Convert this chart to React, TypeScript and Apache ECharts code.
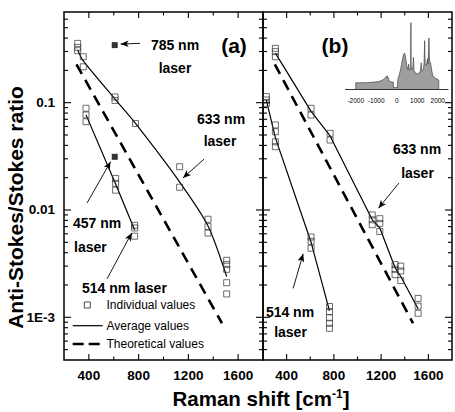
import React, { useEffect, useRef } from "react";
import * as echarts from "echarts";

const FONT = "'Liberation Sans', Arial, Helvetica, sans-serif";

// ---- Panel (a): ratios measured with different excitation lasers ----
const a633Points = [
  [310, 0.357], [310, 0.328], [310, 0.305],
  [355, 0.268], [355, 0.216],
  [610, 0.113], [610, 0.105],
  [775, 0.064],
  [1130, 0.0253], [1130, 0.0163],
  [1358, 0.0082], [1358, 0.007], [1358, 0.0061],
  [1508, 0.0034], [1508, 0.0031], [1508, 0.0028], [1508, 0.0021], [1508, 0.00165],
];
const a633Mean = [
  [310, 0.31], [355, 0.245], [610, 0.108], [775, 0.064],
  [1130, 0.0182], [1358, 0.0071], [1508, 0.0024],
];
const a514Points = [
  [377, 0.0887], [377, 0.0768], [377, 0.0665],
  [615, 0.0197], [615, 0.0177], [615, 0.0153],
  [768, 0.0072], [768, 0.0068], [768, 0.0057],
];
const a514Mean = [[377, 0.077], [615, 0.0175], [768, 0.0065]];
const a785Point = [[608, 0.344]];
const a457Point = [[608, 0.0313]];

// ---- Panel (b) ----
const b633Points = [
  [305, 0.321], [305, 0.299], [305, 0.268],
  [607, 0.0886], [607, 0.0767],
  [768, 0.0518], [768, 0.0449],
  [1125, 0.009], [1125, 0.0081], [1125, 0.0073],
  [1189, 0.0083], [1189, 0.0075], [1189, 0.0063],
  [1318, 0.0031], [1318, 0.0028], [1318, 0.0025],
  [1366, 0.003], [1366, 0.0027], [1366, 0.0022],
  [1513, 0.0015], [1513, 0.00127], [1513, 0.00109],
];
const b633Mean = [
  [305, 0.29], [607, 0.083], [768, 0.049], [1125, 0.0081],
  [1189, 0.0068], [1318, 0.0029], [1366, 0.0024], [1513, 0.0012],
];
const b514Points = [
  [228, 0.114], [228, 0.106], [228, 0.0986],
  [305, 0.062], [305, 0.0536], [305, 0.0432], [305, 0.0389],
  [607, 0.0056], [607, 0.0051], [607, 0.0044],
  [763, 0.00126], [763, 0.00113], [763, 0.00099], [763, 0.00088], [763, 0.00079],
];
const b514Mean = [[228, 0.106], [305, 0.047], [607, 0.005], [763, 0.00115]];

// Boltzmann prediction, shared by both panels
const theoretical = [[300, 0.228], [1470, 0.00088]];

// Annotation arrows, [from, to] in data coordinates
const aArrows = [
  [[811, 0.357], [655, 0.352]],
  [[1326, 0.0298], [1157, 0.0199]],
  [[385, 0.0116], [575, 0.0282]],
  [[546, 0.00228], [744, 0.0061]],
];
const bArrows = [
  [[1350, 0.0178], [1178, 0.0104]],
  [[455, 0.00186], [540, 0.0039]],
];

// ---- Axes ----
const xMin = 200;
const xMax = 1800;
const xStep = 200;
const xMajorStep = 400;
const xTickValues = [400, 600, 800, 1000, 1200, 1400, 1600];
const yMin = 0.0004;
const yMax = 0.7;
const yDecades = [1e-4, 1e-3, 1e-2, 1e-1];
const yMantissas = [1, 2, 3, 4, 5, 6, 7, 8, 9];
const yLabelText: Record<string, string> = { "-1": "0.1", "-2": "0.01", "-3": "1E-3" };

// ---- Inset: Raman spectrum (anti-Stokes and Stokes sides) ----
const insetSpectrum = [
  [-2000, 0], [-2000, 9], [-1500, 9], [-1100, 10], [-850, 11], [-700, 13],
  [-600, 15], [-520, 18], [-460, 19], [-410, 16], [-360, 11], [-250, 10],
  [-170, 10], [-160, 2], [40, 2], [50, 14], [120, 20], [200, 30], [270, 42],
  [330, 50], [390, 52], [440, 44], [490, 33], [540, 28], [580, 36], [610, 27],
  [660, 29], [680, 31], [690, 96], [700, 32], [740, 28], [790, 32], [815, 46],
  [840, 27], [900, 24], [1000, 22], [1100, 23], [1160, 27], [1195, 38],
  [1230, 26], [1300, 28], [1335, 38], [1360, 70], [1385, 36], [1450, 34],
  [1500, 44], [1530, 36], [1570, 74], [1600, 40], [1650, 38], [1700, 28],
  [1750, 20], [1850, 16], [2000, 14], [2050, 13], [2050, 0],
];
const insetMin = -2500;
const insetMax = 2500;
const insetLabelStep = 1000;

const xTickData = xTickValues.map((v) => [v, 0.01, 0, v % xMajorStep === 0 ? 1 : 0]);
const yTickData: number[][] = [];
yDecades.forEach((d) =>
  yMantissas.forEach((m) => {
    const v = m * d;
    if (v > yMin * 1.0001 && v < yMax * 0.9999) yTickData.push([1000, v, 1, m === 1 ? 1 : 0]);
  })
);
const tickData = [...xTickData, ...yTickData];

const tickStyle = { stroke: "#000", lineWidth: 1.1 };

function renderTicks(params: any, api: any) {
  const cs = params.coordSys;
  const isY = api.value(2) === 1;
  const major = api.value(3) === 1;
  const pt = api.coord([api.value(0), api.value(1)]);
  const children: any[] = [];
  if (!isY) {
    const len = major ? 6 : 3.5;
    const bottom = cs.y + cs.height;
    children.push({ type: "line", shape: { x1: pt[0], y1: bottom, x2: pt[0], y2: bottom - len }, style: tickStyle });
    children.push({ type: "line", shape: { x1: pt[0], y1: cs.y, x2: pt[0], y2: cs.y + len }, style: tickStyle });
  } else {
    const len = major ? 7 : 4;
    const right = cs.x + cs.width;
    children.push({ type: "line", shape: { x1: cs.x, y1: pt[1], x2: cs.x + len, y2: pt[1] }, style: tickStyle });
    children.push({ type: "line", shape: { x1: right, y1: pt[1], x2: right - len, y2: pt[1] }, style: tickStyle });
  }
  return { type: "group", children };
}

const hollowSquare = {
  type: "scatter",
  symbol: "rect",
  symbolSize: 6,
  itemStyle: { color: "rgba(255,255,255,0)", borderColor: "#333", borderWidth: 0.9 },
  z: 4,
};
const meanLine = {
  type: "line",
  showSymbol: false,
  symbol: "none",
  lineStyle: { color: "#000", width: 1.2 },
  z: 3,
};
const dashedLine = {
  type: "line",
  showSymbol: false,
  symbol: "none",
  lineStyle: { color: "#000", width: 2.6, type: [11, 7], cap: "butt" },
  z: 3,
};

function arrowMarks(list: number[][][]) {
  return {
    silent: true,
    symbol: ["none", "arrow"],
    symbolSize: [5, 8],
    lineStyle: { color: "#000", width: 0.9, type: "solid" },
    label: { show: false },
    emphasis: { disabled: true },
    data: list.map(([from, to]) => [{ coord: from }, { coord: to }]),
  };
}

function label(x: number, y: number, text: string, size = 14, align = "center", weight = "bold") {
  return {
    type: "text",
    x,
    y,
    z: 10,
    style: {
      text,
      fill: "#000",
      font: `${weight} ${size}px ${FONT}`,
      align,
      verticalAlign: "middle",
    },
  };
}

const mainX = (gridIndex: number) => ({
  gridIndex,
  type: "value",
  min: xMin,
  max: xMax,
  interval: xStep,
  axisLine: { show: false },
  axisTick: { show: false },
  splitLine: { show: false },
  axisLabel: {
    formatter: (v: number) => (v % xMajorStep === 0 ? String(v) : ""),
    color: "#000",
    fontFamily: FONT,
    fontWeight: "bold",
    fontSize: 13.5,
    margin: 8,
  },
});

const mainY = (gridIndex: number, showLabels: boolean) => ({
  gridIndex,
  type: "log",
  logBase: 10,
  min: yMin,
  max: yMax,
  axisLine: { show: false },
  axisTick: { show: false },
  splitLine: { show: false },
  axisLabel: {
    show: showLabels,
    showMinLabel: false,
    showMaxLabel: false,
    formatter: (v: number) => {
      const e = Math.round(Math.log10(v));
      if (Math.abs(Math.log10(v) - e) > 1e-6) return "";
      return yLabelText[String(e)] || "";
    },
    color: "#000",
    fontFamily: FONT,
    fontWeight: "bold",
    fontSize: 13.5,
    margin: 9,
  },
});

const gridBox = { show: true, borderColor: "#000", borderWidth: 1.5, backgroundColor: "transparent" };

const option: any = {
  animation: false,
  backgroundColor: "#fff",
  textStyle: { fontFamily: FONT },
  grid: [
    { left: 64, top: 12, width: 199, height: 348, ...gridBox },
    { left: 263, top: 12, width: 199, height: 348, ...gridBox },
    { left: 345.5, top: 20, width: 102.5, height: 69 },
  ],
  xAxis: [
    mainX(0),
    mainX(1),
    {
      gridIndex: 2,
      type: "value",
      min: insetMin,
      max: insetMax,
      interval: insetLabelStep / 2,
      axisLine: { show: true, lineStyle: { color: "#000", width: 0.8 } },
      axisTick: { show: false },
      splitLine: { show: false },
      axisLabel: {
        formatter: (v: number) => (v % insetLabelStep === 0 ? String(v) : ""),
        color: "#000",
        fontFamily: FONT,
        fontSize: 6.5,
        margin: 8,
      },
    },
  ],
  yAxis: [
    mainY(0, true),
    mainY(1, false),
    { gridIndex: 2, type: "value", min: 0, max: 100, show: false },
  ],
  series: [
    // panel (a)
    { ...dashedLine, xAxisIndex: 0, yAxisIndex: 0, data: theoretical },
    { ...meanLine, xAxisIndex: 0, yAxisIndex: 0, smooth: 0.25, data: a633Mean, markLine: arrowMarks(aArrows) },
    { ...meanLine, xAxisIndex: 0, yAxisIndex: 0, data: a514Mean },
    { ...hollowSquare, xAxisIndex: 0, yAxisIndex: 0, data: a633Points },
    { ...hollowSquare, xAxisIndex: 0, yAxisIndex: 0, data: a514Points },
    {
      type: "scatter", xAxisIndex: 0, yAxisIndex: 0, symbol: "rect", symbolSize: 6,
      itemStyle: { color: "#000" }, data: [...a785Point, ...a457Point], z: 5,
    },
    // panel (b)
    { ...dashedLine, xAxisIndex: 1, yAxisIndex: 1, data: theoretical },
    { ...meanLine, xAxisIndex: 1, yAxisIndex: 1, data: b633Mean, markLine: arrowMarks(bArrows) },
    { ...meanLine, xAxisIndex: 1, yAxisIndex: 1, data: b514Mean },
    { ...hollowSquare, xAxisIndex: 1, yAxisIndex: 1, data: b633Points },
    { ...hollowSquare, xAxisIndex: 1, yAxisIndex: 1, data: b514Points },
    // axis ticks on all sides of both panels
    { type: "custom", xAxisIndex: 0, yAxisIndex: 0, renderItem: renderTicks, data: tickData, silent: true, z: 6 },
    { type: "custom", xAxisIndex: 1, yAxisIndex: 1, renderItem: renderTicks, data: tickData, silent: true, z: 6 },
    // inset spectrum
    {
      type: "line", xAxisIndex: 2, yAxisIndex: 2, symbol: "none", showSymbol: false,
      lineStyle: { color: "#444", width: 0.7 },
      areaStyle: { color: "#9e9e9e", opacity: 1 },
      data: insetSpectrum, z: 2,
    },
  ],
  graphic: [
    label(175, 44.5, "785 nm"),
    label(175, 68, "laser"),
    label(234, 45, "(a)", 21),
    label(335, 45, "(b)", 21),
    label(221, 119, "633 nm"),
    label(220, 141, "laser"),
    label(73, 222.5, "457 nm", 14, "left"),
    label(74, 246.5, "laser", 14, "left"),
    label(82, 288, "514 nm laser", 14, "left"),
    label(417, 149, "633 nm"),
    label(417.5, 173, "laser"),
    label(290, 311.5, "514 nm"),
    label(290.5, 331.5, "laser"),
    // legend
    {
      type: "rect", z: 10,
      shape: { x: 84.3, y: 302, width: 6, height: 6 },
      style: { fill: "none", stroke: "#333", lineWidth: 0.9 },
    },
    label(106.5, 305, "Individual values", 12, "left", "normal"),
    {
      type: "line", z: 10,
      shape: { x1: 72.7, y1: 325.7, x2: 102.7, y2: 325.7 },
      style: { stroke: "#000", lineWidth: 1.2 },
    },
    label(106.5, 326, "Average values", 12, "left", "normal"),
    {
      type: "line", z: 10,
      shape: { x1: 72.7, y1: 344, x2: 102.7, y2: 344 },
      style: { stroke: "#000", lineWidth: 2.6, lineDash: [11, 5] },
    },
    label(106.5, 344, "Theoretical values", 12, "left", "normal"),
    // axis titles
    {
      type: "text", z: 10, x: 15, y: 207.5, rotation: Math.PI / 2,
      style: {
        text: "Anti-Stokes/Stokes ratio",
        fill: "#000",
        font: `bold 21px ${FONT}`,
        align: "center",
        verticalAlign: "middle",
      },
    },
    {
      type: "text", z: 10, x: 261, y: 398,
      style: {
        text: "{t|Raman shift [cm}{s|-1}{t|]}",
        fill: "#000",
        align: "center",
        verticalAlign: "middle",
        rich: {
          t: { font: `bold 20.5px ${FONT}`, fill: "#000" },
          s: { font: `bold 12px ${FONT}`, fill: "#000", verticalAlign: "top" },
        },
      },
    },
  ],
};

export default function App() {
  const ref = useRef<HTMLDivElement>(null);
  useEffect(() => {
    const chart = echarts.init(ref.current as HTMLDivElement, null, { renderer: "svg" });
    chart.setOption(option);
    return () => chart.dispose();
  }, []);
  return (
    <div
      ref={ref}
      style={{ position: "absolute", left: 0, top: 0, width: 455, height: 412, background: "#fff" }}
    />
  );
}
